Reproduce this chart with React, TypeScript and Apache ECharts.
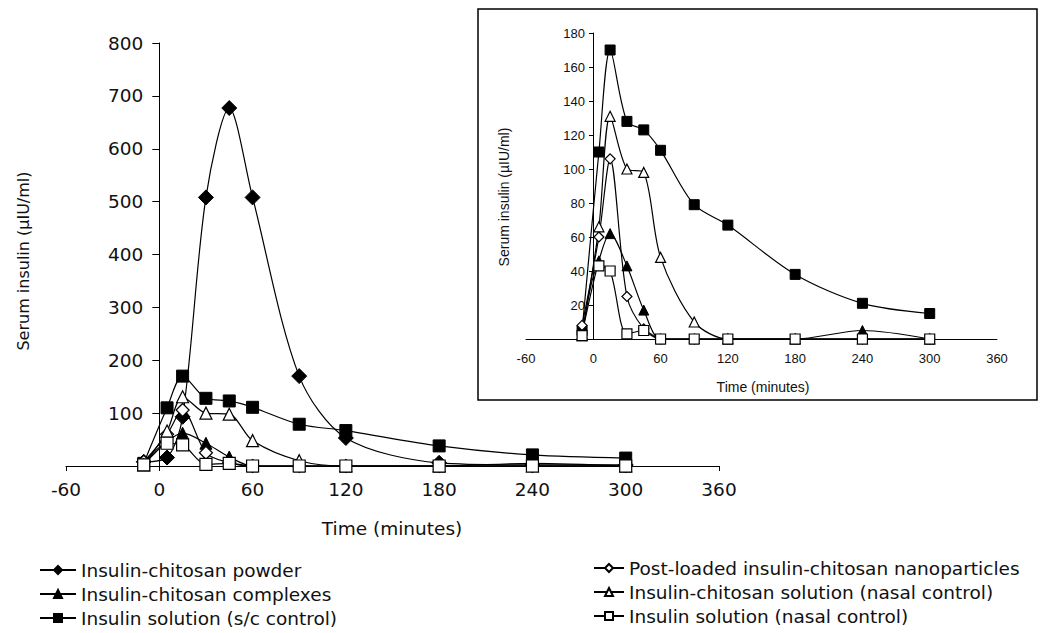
import React, { useEffect, useRef } from "react";
import * as echarts from "echarts";

// ---- data ----
const times = [-10, 5, 15, 30, 45, 60, 90, 120, 180, 240, 300];
const powder = [8, 16, 93, 508, 677, 508, 170, 53, 6, 2, 2];
const postLoaded = [8, 60, 106, 25, 6, 0, 0, 0, 0, 0, 0];
const complexes = [3, 46, 62, 43, 17, 0, 0, 0, 0, 5, 0];
const chitosanSolution = [2, 66, 131, 100, 98, 48, 10, 0, 0, 0, 0];
const scControl = [5, 110, 170, 128, 123, 111, 79, 67, 38, 21, 15];
const nasalControl = [2, 43, 40, 3, 5, 0, 0, 0, 0, 0, 0];

const N_POWDER = "Insulin-chitosan powder";
const N_COMPLEX = "Insulin-chitosan complexes";
const N_SC = "Insulin solution (s/c control)";
const N_POST = "Post-loaded insulin-chitosan nanoparticles";
const N_CHSOL = "Insulin-chitosan solution (nasal control)";
const N_NASAL = "Insulin solution (nasal control)";

const legendLeft = [N_POWDER, N_COMPLEX, N_SC];
const legendRight = [N_POST, N_CHSOL, N_NASAL];

const FONT = "DejaVu Sans";
const SMALL_FONT = "Liberation Sans";

function pairs(values: number[]) {
  return times.map((t, i) => [t, values[i]]);
}

function mk(
  name: string,
  values: number[],
  symbol: string,
  filled: boolean,
  size: number,
  axis: number
) {
  return {
    type: "line",
    name,
    xAxisIndex: axis,
    yAxisIndex: axis,
    data: pairs(values),
    smooth: 0.3,
    symbol,
    symbolSize: size,
    showSymbol: true,
    lineStyle: { color: "#000", width: 1.2 },
    itemStyle: filled
      ? { color: "#000", borderColor: "#000", borderWidth: 1 }
      : { color: "#fff", borderColor: "#000", borderWidth: 1.2 },
    emphasis: { disabled: true },
    z: filled ? 3 : 4,
  };
}

function legendRow(name: string, left: number, top: number, width: number) {
  return {
    data: [name],
    orient: "horizontal",
    left,
    top,
    itemWidth: width,
    itemHeight: 10,
    itemGap: 0,
    selectedMode: false,
    padding: 0,
    textStyle: { color: "#111", fontFamily: FONT, fontSize: 18.5, lineHeight: 20 },
  };
}

export default function App() {
  const ref = useRef<HTMLDivElement>(null);
  useEffect(() => {
    const chart = echarts.init(ref.current!, null, { renderer: "svg" });
    const axisLine = { show: true, onZero: false, lineStyle: { color: "#000", width: 1 } };
    const leftTops = [560, 584, 608];
    const rightTops = [558, 582, 606];
    const option = {
      animation: false,
      backgroundColor: "#fff",
      grid: [
        { left: 66, top: 43, width: 653, height: 423 },
        { left: 526, top: 33, width: 471, height: 306 },
      ],
      xAxis: [
        {
          type: "value",
          gridIndex: 0,
          min: -60,
          max: 360,
          interval: 60,
          axisLine,
          axisTick: { show: true, length: 5, lineStyle: { color: "#000" } },
          axisLabel: { color: "#111", fontFamily: FONT, fontSize: 18.5, margin: 14 },
          splitLine: { show: false },
        },
        {
          type: "value",
          gridIndex: 1,
          min: -60,
          max: 360,
          interval: 60,
          axisLine,
          axisTick: { show: false },
          axisLabel: { color: "#111", fontFamily: SMALL_FONT, fontSize: 13, margin: 13 },
          splitLine: { show: false },
        },
      ],
      yAxis: [
        {
          type: "value",
          gridIndex: 0,
          min: 0,
          max: 800,
          interval: 100,
          offset: -93.3,
          axisLine,
          axisTick: { show: true, length: 7, lineStyle: { color: "#000" } },
          axisLabel: {
            color: "#111",
            fontFamily: FONT,
            fontSize: 18.5,
            margin: 16,
            formatter: (v: number) => (v === 0 ? "" : String(v)),
          },
          splitLine: { show: false },
        },
        {
          type: "value",
          gridIndex: 1,
          min: 0,
          max: 180,
          interval: 20,
          offset: -67,
          axisLine,
          axisTick: { show: true, length: 4, lineStyle: { color: "#000" } },
          axisLabel: {
            color: "#111",
            fontFamily: SMALL_FONT,
            fontSize: 13,
            margin: 8,
            formatter: (v: number) => (v === 0 ? "" : String(v)),
          },
          splitLine: { show: false },
        },
      ],
      legend: [
        ...legendLeft.map((n, i) => legendRow(n, 39, leftTops[i], 36)),
        ...legendRight.map((n, i) => legendRow(n, 593, rightTops[i], 30)),
      ],
      series: [
        mk(N_POWDER, powder, "diamond", true, 15, 0),
        mk(N_COMPLEX, complexes, "triangle", true, 12, 0),
        mk(N_SC, scControl, "rect", true, 12, 0),
        mk(N_POST, postLoaded, "diamond", false, 13, 0),
        mk(N_CHSOL, chitosanSolution, "triangle", false, 12, 0),
        mk(N_NASAL, nasalControl, "rect", false, 12, 0),
        mk(N_COMPLEX, complexes, "triangle", true, 10, 1),
        mk(N_SC, scControl, "rect", true, 10, 1),
        mk(N_POST, postLoaded, "diamond", false, 10, 1),
        mk(N_CHSOL, chitosanSolution, "triangle", false, 10, 1),
        mk(N_NASAL, nasalControl, "rect", false, 10, 1),
      ],
      graphic: [
        {
          type: "rect",
          shape: { x: 478, y: 9, width: 559, height: 391 },
          style: { fill: "none", stroke: "#000", lineWidth: 1.5 },
          z: 1,
        },
        {
          type: "text",
          x: 392,
          y: 528,
          style: {
            text: "Time (minutes)",
            fontFamily: FONT,
            fontSize: 18.5,
            fill: "#111",
            align: "center",
            verticalAlign: "middle",
          },
        },
        {
          type: "text",
          x: 23,
          y: 261,
          rotation: Math.PI / 2,
          style: {
            text: "Serum insulin (µIU/ml)",
            fontFamily: FONT,
            fontSize: 16,
            fill: "#111",
            align: "center",
            verticalAlign: "middle",
          },
        },
        {
          type: "text",
          x: 763,
          y: 387,
          style: {
            text: "Time (minutes)",
            fontFamily: SMALL_FONT,
            fontSize: 14,
            fill: "#111",
            align: "center",
            verticalAlign: "middle",
          },
        },
        {
          type: "text",
          x: 504,
          y: 197,
          rotation: Math.PI / 2,
          style: {
            text: "Serum insulin (µIU/ml)",
            fontFamily: SMALL_FONT,
            fontSize: 14,
            fill: "#111",
            align: "center",
            verticalAlign: "middle",
          },
        },
      ],
    };
    chart.setOption(option as any);
    return () => chart.dispose();
  }, []);
  return (
    <div
      ref={ref}
      style={{ position: "absolute", left: 0, top: 0, width: 1040, height: 633, background: "#fff" }}
    />
  );
}
